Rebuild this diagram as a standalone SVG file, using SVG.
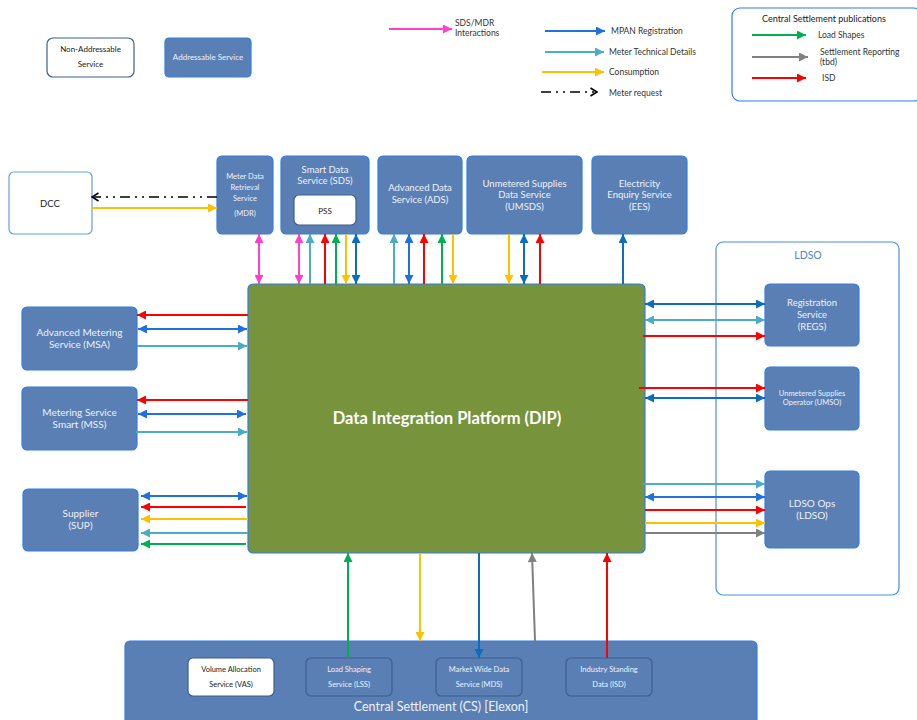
<svg xmlns="http://www.w3.org/2000/svg" width="917" height="720" viewBox="0 0 917 720">
<style>
text{font-family:Lato,"Open Sans","Liberation Sans",sans-serif;}
.svc{fill:#5a7fb4;stroke:#2f7fe6;stroke-width:1.2;}
.sub{fill:#5a7fb4;stroke:#3d5f8f;stroke-width:1.2;}
.wht{fill:#ffffff;stroke:#3d5f8f;stroke-width:1.2;}
.t{fill:#eef2f8;text-anchor:middle;}
.d{fill:#222222;text-anchor:middle;}
.lg{fill:#333333;font-size:8.5px;}
.ln{fill:none;stroke-width:2;}
.pk{stroke:#ff40c8;marker-start:url(#mpk);marker-end:url(#mpk);}
.bl{stroke:#1f70e0;}
.db{stroke:#0b6cc0;}
.lb{stroke:#4bacc6;}
.yl{stroke:#ffc000;}
.gn{stroke:#00b050;}
.gy{stroke:#808080;}
.rd{stroke:#ff0000;}
</style>
<defs>
<marker id="mpk" viewBox="0 0 10 10" refX="10" refY="5" markerWidth="10" markerHeight="9" markerUnits="userSpaceOnUse" orient="auto-start-reverse"><path d="M0,0L10,5L0,10z" fill="#ff40c8"/></marker>
<marker id="mbl" viewBox="0 0 10 10" refX="10" refY="5" markerWidth="10" markerHeight="9" markerUnits="userSpaceOnUse" orient="auto-start-reverse"><path d="M0,0L10,5L0,10z" fill="#1f70e0"/></marker>
<marker id="mdb" viewBox="0 0 10 10" refX="10" refY="5" markerWidth="10" markerHeight="9" markerUnits="userSpaceOnUse" orient="auto-start-reverse"><path d="M0,0L10,5L0,10z" fill="#0b6cc0"/></marker>
<marker id="mlb" viewBox="0 0 10 10" refX="10" refY="5" markerWidth="10" markerHeight="9" markerUnits="userSpaceOnUse" orient="auto-start-reverse"><path d="M0,0L10,5L0,10z" fill="#4bacc6"/></marker>
<marker id="myl" viewBox="0 0 10 10" refX="10" refY="5" markerWidth="10" markerHeight="9" markerUnits="userSpaceOnUse" orient="auto-start-reverse"><path d="M0,0L10,5L0,10z" fill="#ffc000"/></marker>
<marker id="mgn" viewBox="0 0 10 10" refX="10" refY="5" markerWidth="10" markerHeight="9" markerUnits="userSpaceOnUse" orient="auto-start-reverse"><path d="M0,0L10,5L0,10z" fill="#00b050"/></marker>
<marker id="mgy" viewBox="0 0 10 10" refX="10" refY="5" markerWidth="10" markerHeight="9" markerUnits="userSpaceOnUse" orient="auto-start-reverse"><path d="M0,0L10,5L0,10z" fill="#808080"/></marker>
<marker id="mrd" viewBox="0 0 10 10" refX="10" refY="5" markerWidth="10" markerHeight="9" markerUnits="userSpaceOnUse" orient="auto-start-reverse"><path d="M0,0L10,5L0,10z" fill="#ff0000"/></marker>
<marker id="mopen" viewBox="0 0 10 10" refX="8.5" refY="5" markerWidth="10" markerHeight="10" markerUnits="userSpaceOnUse" orient="auto-start-reverse"><path d="M2,1L8.5,5L2,9" fill="none" stroke="#000" stroke-width="1.6"/></marker>
</defs>

<!-- Legend -->
<g id="legend">
<g id="legend-nonaddr"><rect x="47" y="38" width="87" height="39" rx="6" class="wht"/><text x="90.5" y="52" class="d" font-size="8">Non-Addressable</text><text x="90.5" y="67" class="d" font-size="8">Service</text></g>
<g id="legend-addr"><rect x="165" y="38" width="86" height="39" rx="4" class="svc"/><text x="208" y="60" class="t" font-size="8">Addressable Service</text></g>
<line x1="389" y1="29" x2="452" y2="29" class="ln" stroke="#ff40c8" marker-end="url(#mpk)"/>
<text x="455" y="26" class="lg">SDS/MDR</text><text x="455" y="36" class="lg">Interactions</text>
<line x1="545" y1="31" x2="605" y2="31" class="ln bl" marker-end="url(#mbl)"/>
<text x="611" y="34" class="lg">MPAN Registration</text>
<line x1="545" y1="52" x2="604" y2="52" class="ln lb" marker-end="url(#mlb)"/>
<text x="609" y="55" class="lg">Meter Technical Details</text>
<line x1="542" y1="72" x2="604" y2="72" class="ln yl" marker-end="url(#myl)"/>
<text x="609" y="75" class="lg">Consumption</text>
<line x1="541" y1="92" x2="597" y2="92" fill="none" stroke="#000" stroke-width="1.6" stroke-dasharray="10 5 2 5 2 5" marker-end="url(#mopen)"/>
<text x="609" y="96" class="lg">Meter request</text>
<g id="legend-cs">
<rect x="732" y="8" width="190" height="93" rx="8" fill="#fff" stroke="#2f7fe6" stroke-width="1.2"/>
<text x="762" y="22" font-size="9" fill="#222">Central Settlement publications</text>
<line x1="752" y1="35" x2="806" y2="35" class="ln gn" marker-end="url(#mgn)"/>
<text x="818" y="38" class="lg">Load Shapes</text>
<line x1="752" y1="57" x2="808" y2="57" class="ln gy" marker-end="url(#mgy)"/>
<text x="820" y="55" class="lg">Settlement Reporting</text><text x="820" y="65" class="lg">(tbd)</text>
<line x1="752" y1="78" x2="806" y2="78" class="ln rd" marker-end="url(#mrd)"/>
<text x="822" y="81" class="lg">ISD</text>
</g>
</g>

<!-- Containers -->
<g id="ldso-group"><rect x="716" y="242" width="183" height="353" rx="7" fill="#fff" stroke="#4a90d9" stroke-width="1.2"/><text x="808" y="259" text-anchor="middle" font-size="10.5" fill="#4a86d4">LDSO</text></g>
<g id="cs"><rect x="125" y="641" width="632" height="85" rx="5" class="svc"/><text x="441" y="711" class="t" font-size="12.5">Central Settlement (CS) [Elexon]</text></g>

<!-- Nodes -->
<g id="dcc"><rect x="9" y="172" width="83" height="62" rx="5" fill="#fff" stroke="#5ea1e8" stroke-width="1.2"/><text x="50" y="207" class="d" font-size="9.5">DCC</text></g>
<g id="mdr"><rect x="217" y="156" width="56" height="78" rx="5" class="svc"/>
<text x="245" y="179" class="t" font-size="7.5">Meter Data</text><text x="245" y="190" class="t" font-size="7.5">Retrieval</text><text x="245" y="201" class="t" font-size="7.5">Service</text><text x="245" y="216" class="t" font-size="7.5">(MDR)</text></g>
<g id="sds"><rect x="281" y="156" width="88" height="78" rx="5" class="svc"/>
<text x="325" y="173" class="t" font-size="9.5">Smart Data</text><text x="325" y="184" class="t" font-size="9.5">Service (SDS)</text></g>
<g id="pss"><rect x="294" y="195" width="62" height="30" rx="5" class="wht"/><text x="325" y="214" class="d" font-size="8">PSS</text></g>
<g id="ads"><rect x="378" y="156" width="84" height="78" rx="5" class="svc"/>
<text x="420" y="191" class="t" font-size="9.5">Advanced Data</text><text x="420" y="203" class="t" font-size="9.5">Service (ADS)</text></g>
<g id="umsds"><rect x="467" y="156" width="115" height="78" rx="5" class="svc"/>
<text x="524.5" y="187" class="t" font-size="9.5">Unmetered Supplies</text><text x="524.5" y="198" class="t" font-size="9.5">Data Service</text><text x="524.5" y="210" class="t" font-size="9.5">(UMSDS)</text></g>
<g id="ees"><rect x="592" y="156" width="95" height="78" rx="5" class="svc"/>
<text x="639.5" y="187" class="t" font-size="9.5">Electricity</text><text x="639.5" y="198" class="t" font-size="9.5">Enquiry Service</text><text x="639.5" y="210" class="t" font-size="9.5">(EES)</text></g>
<g id="dip"><rect x="248" y="284" width="397" height="269" rx="5" fill="#77933c" stroke="#2f7fe6" stroke-width="1.2"/>
<text x="447" y="424" text-anchor="middle" font-size="16.5" font-weight="bold" fill="#ffffff">Data Integration Platform (DIP)</text></g>
<g id="msa"><rect x="22" y="307" width="115" height="63" rx="5" class="svc"/>
<text x="79.5" y="336" class="t" font-size="10">Advanced Metering</text><text x="79.5" y="348" class="t" font-size="10">Service (MSA)</text></g>
<g id="mss"><rect x="22" y="387" width="115" height="63" rx="5" class="svc"/>
<text x="79.5" y="416" class="t" font-size="10">Metering Service</text><text x="79.5" y="428" class="t" font-size="10">Smart (MSS)</text></g>
<g id="sup"><rect x="23" y="489" width="115" height="62" rx="5" class="svc"/>
<text x="80.5" y="517" class="t" font-size="10">Supplier</text><text x="80.5" y="529" class="t" font-size="10">(SUP)</text></g>
<g id="regs"><rect x="765" y="284" width="94" height="62" rx="5" class="svc"/>
<text x="812" y="306" class="t" font-size="9.5">Registration</text><text x="812" y="318" class="t" font-size="9.5">Service</text><text x="812" y="330" class="t" font-size="9.5">(REGS)</text></g>
<g id="umso"><rect x="765" y="367" width="94" height="63" rx="5" class="svc"/>
<text x="812" y="396" class="t" font-size="7.5">Unmetered Supplies</text><text x="812" y="405" class="t" font-size="7.5">Operator (UMSO)</text></g>
<g id="ldso-ops"><rect x="765" y="471" width="94" height="77" rx="5" class="svc"/>
<text x="812" y="507" class="t" font-size="10">LDSO Ops</text><text x="812" y="519" class="t" font-size="10">(LDSO)</text></g>
<g id="vas"><rect x="188" y="658" width="86" height="38" rx="5" class="wht"/><text x="231" y="672" class="d" font-size="7.5">Volume Allocation</text><text x="231" y="687" class="d" font-size="7.5">Service (VAS)</text></g>
<g id="lss"><rect x="306" y="658" width="86" height="38" rx="5" class="sub"/><text x="349" y="672" class="t" font-size="7.5">Load Shaping</text><text x="349" y="687" class="t" font-size="7.5">Service (LSS)</text></g>
<g id="mds"><rect x="436" y="658" width="86" height="38" rx="5" class="sub"/><text x="479" y="672" class="t" font-size="7.5">Market Wide Data</text><text x="479" y="687" class="t" font-size="7.5">Service (MDS)</text></g>
<g id="isd"><rect x="566" y="658" width="86" height="38" rx="5" class="sub"/><text x="609" y="672" class="t" font-size="7.5">Industry Standing</text><text x="609" y="687" class="t" font-size="7.5">Data (ISD)</text></g>

<!-- Connectors -->
<g id="connectors">
<!-- DCC / MDR -->
<line x1="217" y1="197" x2="92" y2="197" fill="none" stroke="#000" stroke-width="1.6" stroke-dasharray="10 5 2 5 2 5" marker-end="url(#mopen)"/>
<line x1="92" y1="208" x2="217" y2="208" class="ln yl" marker-end="url(#myl)"/>
<!-- top -->
<line x1="259" y1="234" x2="259" y2="284" class="ln pk"/>
<line x1="299" y1="234" x2="299" y2="284" class="ln pk"/>
<line x1="310" y1="284" x2="310" y2="234" class="ln lb" marker-end="url(#mlb)"/>
<line x1="325" y1="284" x2="325" y2="234" class="ln rd" marker-end="url(#mrd)"/>
<line x1="336" y1="284" x2="336" y2="234" class="ln gn" marker-end="url(#mgn)"/>
<line x1="346" y1="234" x2="346" y2="284" class="ln yl" marker-end="url(#myl)"/>
<line x1="356" y1="234" x2="356" y2="284" class="ln db" marker-start="url(#mdb)" marker-end="url(#mdb)"/>
<line x1="394" y1="284" x2="394" y2="234" class="ln lb" marker-end="url(#mlb)"/>
<line x1="409" y1="234" x2="409" y2="284" class="ln bl" marker-start="url(#mbl)" marker-end="url(#mbl)"/>
<line x1="424" y1="284" x2="424" y2="234" class="ln rd" marker-end="url(#mrd)"/>
<line x1="442" y1="284" x2="442" y2="234" class="ln gn" marker-end="url(#mgn)"/>
<line x1="453" y1="234" x2="453" y2="284" class="ln yl" marker-end="url(#myl)"/>
<line x1="509" y1="234" x2="509" y2="284" class="ln yl" marker-end="url(#myl)"/>
<line x1="524" y1="234" x2="524" y2="284" class="ln db" marker-start="url(#mdb)" marker-end="url(#mdb)"/>
<line x1="540" y1="284" x2="540" y2="234" class="ln rd" marker-end="url(#mrd)"/>
<line x1="623" y1="284" x2="623" y2="234" class="ln db" marker-end="url(#mdb)"/>
<!-- left MSA -->
<line x1="248" y1="315" x2="137" y2="315" class="ln rd" marker-end="url(#mrd)"/>
<line x1="138" y1="329" x2="247" y2="329" class="ln bl" marker-start="url(#mbl)" marker-end="url(#mbl)"/>
<line x1="137" y1="346" x2="247" y2="346" class="ln lb" marker-end="url(#mlb)"/>
<!-- left MSS -->
<line x1="248" y1="400" x2="137" y2="400" class="ln rd" marker-end="url(#mrd)"/>
<line x1="138" y1="414" x2="246" y2="414" class="ln bl" marker-start="url(#mbl)" marker-end="url(#mbl)"/>
<line x1="136" y1="432" x2="247" y2="432" class="ln lb" marker-end="url(#mlb)"/>
<!-- left SUP -->
<line x1="141" y1="496" x2="247" y2="496" class="ln bl" marker-start="url(#mbl)" marker-end="url(#mbl)"/>
<line x1="246" y1="507" x2="141" y2="507" class="ln rd" marker-end="url(#mrd)"/>
<line x1="248" y1="519" x2="141" y2="519" class="ln yl" marker-end="url(#myl)"/>
<line x1="248" y1="533" x2="141" y2="533" class="ln lb" marker-end="url(#mlb)"/>
<line x1="246" y1="544" x2="141" y2="544" class="ln gn" marker-end="url(#mgn)"/>
<!-- right REGS -->
<line x1="645" y1="304" x2="765" y2="304" class="ln db" marker-start="url(#mdb)" marker-end="url(#mdb)"/>
<line x1="645" y1="320" x2="765" y2="320" class="ln lb" marker-start="url(#mlb)" marker-end="url(#mlb)"/>
<line x1="643" y1="336" x2="765" y2="336" class="ln rd" marker-end="url(#mrd)"/>
<!-- right UMSO -->
<line x1="639" y1="388" x2="765" y2="388" class="ln rd" marker-end="url(#mrd)"/>
<line x1="645" y1="398" x2="765" y2="398" class="ln db" marker-start="url(#mdb)" marker-end="url(#mdb)"/>
<!-- right LDSO Ops -->
<line x1="643" y1="484" x2="765" y2="484" class="ln lb" marker-end="url(#mlb)"/>
<line x1="645" y1="497" x2="765" y2="497" class="ln bl" marker-start="url(#mbl)" marker-end="url(#mbl)"/>
<line x1="645" y1="510" x2="765" y2="510" class="ln rd" marker-end="url(#mrd)"/>
<line x1="645" y1="523" x2="765" y2="523" class="ln yl" marker-end="url(#myl)"/>
<line x1="645" y1="533" x2="765" y2="533" class="ln gy" marker-end="url(#mgy)"/>
<!-- bottom -->
<line x1="348" y1="658" x2="348" y2="553" class="ln gn" marker-end="url(#mgn)"/>
<line x1="420" y1="553" x2="420" y2="641" class="ln yl" marker-end="url(#myl)"/>
<line x1="479" y1="553" x2="479" y2="658" class="ln db" marker-end="url(#mdb)"/>
<line x1="535" y1="641" x2="532" y2="553" class="ln gy" marker-end="url(#mgy)"/>
<line x1="607" y1="658" x2="607" y2="553" class="ln rd" marker-end="url(#mrd)"/>
</g>
</svg>
